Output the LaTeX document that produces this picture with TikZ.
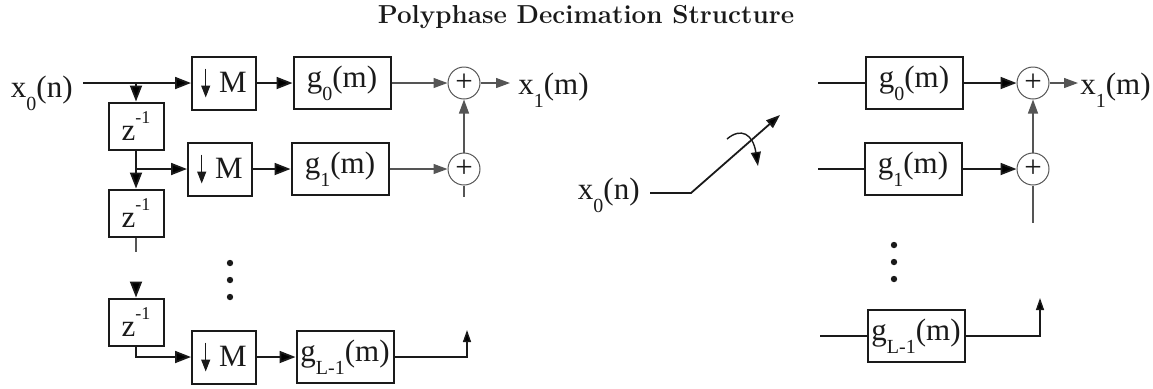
\documentclass[tikz,border=0pt]{standalone}
\usepackage{fontspec}
\newfontfamily\diagramserif{Liberation Serif}
\usetikzlibrary{
  arrows.meta,
  positioning
}
\definecolor{Ink}{HTML}{1A1A1A}
\definecolor{MutedInk}{HTML}{555555}
\newcommand{\diagramnormalfont}{\diagramserif\fontsize{15.5}{17}\selectfont}
\newcommand{\diagramtitlefont}{\rmfamily\bfseries\fontsize{13}{15}\selectfont}
\newcommand{\lowsub}[1]{\raisebox{-0.42em}{\fontsize{10}{10}\selectfont #1}}
\newcommand{\highsup}[1]{\raisebox{0.55em}{\fontsize{9}{9}\selectfont #1}}
\newcommand{\downM}{%
  \tikz[baseline=0pt]\draw[line width=0.6pt,-{Triangle[length=6pt,width=4.5pt]}]
    (0pt,12pt) -- (0pt,-2.5pt);\hspace{4.5pt}M}
\tikzset{
  % Global typography and block geometry (1 unit = 1 reference pixel).
  every node/.style={font=\diagramnormalfont, text=Ink},
  delay box/.style={
    draw=Ink,
    line width=1pt,
    minimum width=27.5pt,
    minimum height=23.5pt,
    inner sep=0pt
  },
  down box/.style={
    draw=Ink,
    line width=1pt,
    minimum width=32pt,
    minimum height=26.5pt,
    inner sep=0pt
  },
  filter box/.style={
    draw=Ink,
    line width=1pt,
    minimum width=48.5pt,
    minimum height=26pt,
    inner sep=0pt
  },
  sum node/.style={
    circle,
    draw=MutedInk,
    line width=0.5pt,
    minimum size=16pt,
    inner sep=0pt
  },
  signal label/.style={
    inner sep=0pt,
    anchor=base
  },
  flow/.style={
    -{Triangle[length=8pt,width=6pt]},
    draw=Ink,
    line width=0.9pt
  },
  thin flow/.style={
    -{Triangle[length=7pt,width=5pt]},
    draw=MutedInk,
    line width=0.6pt
  },
  up flow/.style={
    -{Triangle[length=6pt,width=4pt]},
    draw=Ink,
    line width=0.7pt
  },
  wire/.style={
    draw=Ink,
    line width=0.9pt
  },
  thin wire/.style={
    draw=MutedInk,
    line width=0.6pt
  }
}
\begin{document}
\begin{tikzpicture}[x=0.5pt,y=-0.5pt]

\useasboundingbox (0,0) rectangle (1153,388);

\node[font=\diagramtitlefont] (title) at (586,17) {Polyphase Decimation Structure};

% ---------------------------------------------------------------------------
% Left: delay chain, downsamplers and polyphase filters
% ---------------------------------------------------------------------------
\node[signal label, anchor=base east] (inL) at (73,97) {x\lowsub{0}(n)};
\coordinate (inStartL) at (83,83);

\node[down box] (M0) at (224,83) {\downM};
\node[down box] (M1) at (220,169) {\downM};
\node[down box] (M2) at (224,357) {\downM};

\node[filter box] (g0) at (342,83) {g\lowsub{0}(m)};
\node[filter box] (g1) at (340,169) {g\lowsub{1}(m)};
\node[filter box] (gL) at (345,357) {g\lowsub{L-1}(m)};

\node[delay box] (z1) at (136,126) {z\highsup{-1}};
\node[delay box] (z2) at (136,213) {z\highsup{-1}};
\node[delay box] (z3) at (136,322) {z\highsup{-1}};

\node[sum node] (sum0) at (464,83) {+};
\node[sum node] (sum1) at (464,169) {+};
\node[signal label, anchor=base west] (outL) at (518,94) {x\lowsub{1}(m)};

\coordinate (tap0) at (136,83);
\coordinate (z2stub) at (136,252);
\coordinate (z3feed) at (136,283);
\coordinate (sumTailL) at (464,197);
\coordinate (outTipL) at (510,83);
\coordinate (upL) at (467,330);

\draw[flow] (inStartL) -- (M0.west);
\draw[flow] (tap0) -- (z1.north);
\draw[flow] (z1.south) -- (z2.north);
\draw[flow] (z1.south |- M1.west) -- (M1.west);
\draw[thin wire] (z2.south) -- (z2stub);
\draw[flow] (z3feed) -- (z3.north);
\draw[flow] (z3.south) |- (M2.west);

\draw[flow] (M0) -- (g0);
\draw[flow] (M1) -- (g1);
\draw[flow] (M2) -- (gL);

\draw[thin flow] (g0) -- (sum0);
\draw[thin flow] (g1) -- (sum1);
\draw[thin flow] (sum1) -- (sum0);
\draw[thin wire] (sum1.south) -- (sumTailL);
\draw[thin flow] (sum0.east) -- (outTipL);
\draw[up flow] (gL.east) -| (upL);

\foreach \y in {263,280,297}{
  \fill[Ink] (230,\y) circle (1.6pt);
}

% ---------------------------------------------------------------------------
% Right: commutator feeding the filter bank
% ---------------------------------------------------------------------------
\node[signal label, anchor=base east] (inR) at (640,199) {x\lowsub{0}(n)};
\coordinate (swStart) at (650,193);
\coordinate (swPivot) at (691,193);
\coordinate (swTip) at (780,115);

\draw[wire, -{Triangle[length=7pt,width=5pt]}] (swStart) -- (swPivot) -- (swTip);
\draw[wire, line width=0.7pt, -{Triangle[length=7pt,width=5pt]}]
  (727,139) .. controls (741,127) and (753,134) .. (758,166);

\node[filter box] (gR0) at (914,83) {g\lowsub{0}(m)};
\node[filter box] (gR1) at (913,169) {g\lowsub{1}(m)};
\node[filter box] (gRL) at (916,336) {g\lowsub{L-1}(m)};

\node[sum node] (sumR0) at (1033,83) {+};
\node[sum node] (sumR1) at (1033,169) {+};
\node[signal label, anchor=base west] (outR) at (1080,94) {x\lowsub{1}(m)};

\coordinate (rin0) at (818,83);
\coordinate (rin1) at (818,169);
\coordinate (rin2) at (820,336);
\coordinate (sumTailR) at (1033,223);
\coordinate (outTipR) at (1078,83);
\coordinate (upR) at (1040,298);

\draw[wire] (rin0) -- (gR0.west);
\draw[wire] (rin1) -- (gR1.west);
\draw[wire] (rin2) -- (gRL.west);

\draw[flow] (gR0) -- (sumR0);
\draw[flow] (gR1) -- (sumR1);
\draw[thin flow] (sumR1) -- (sumR0);
\draw[thin wire] (sumR1.south) -- (sumTailR);
\draw[thin flow] (sumR0.east) -- (outTipR);
\draw[up flow] (gRL.east) -| (upR);

\foreach \y in {245,262,279}{
  \fill[Ink] (894,\y) circle (1.6pt);
}

\end{tikzpicture}
\end{document}
